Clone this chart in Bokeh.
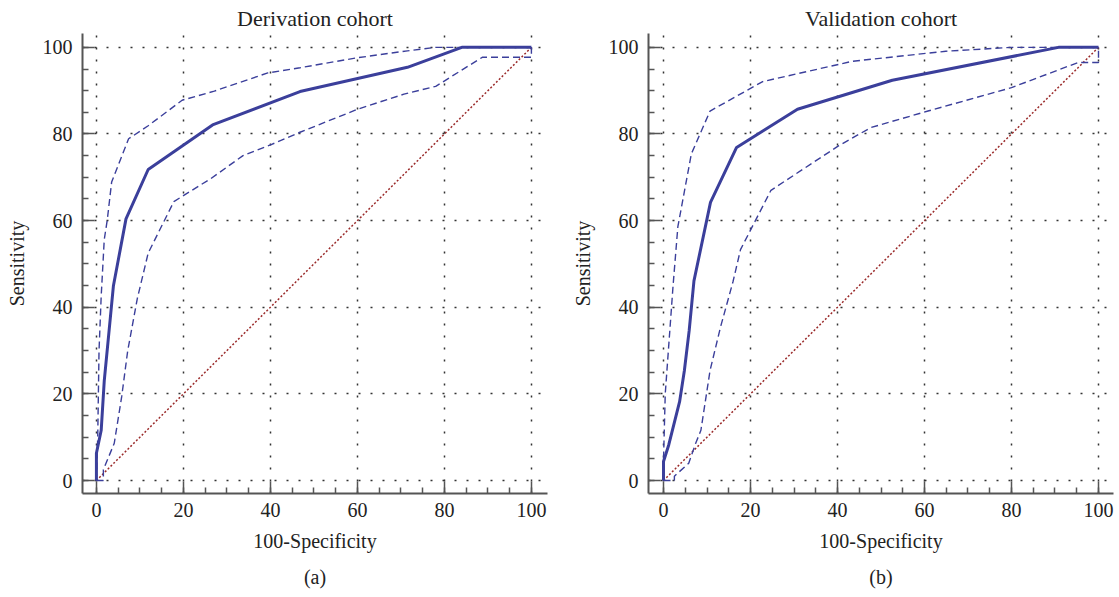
from bokeh.plotting import figure
from bokeh.models import Range1d, FixedTicker, Title
from bokeh.layouts import row
from bokeh.embed import file_html
from bokeh.resources import INLINE

# ---------------- data ----------------
major_ticks = [0, 20, 40, 60, 80, 100]
minor_ticks = list(range(0, 101, 5))
diag = [0, 100]

# Derivation cohort
der_roc_x = [0, 0, 1.1, 1.8, 3.9, 6.8, 11.9, 26.7, 46.8, 71.5, 84, 100]
der_roc_y = [0, 6.3, 11.6, 23, 44.9, 60.4, 71.8, 82.1, 89.8, 95.4, 100, 100]
der_up_x = [0, 0.3, 0.6, 1.1, 1.8, 2.5, 3.5, 7.4, 11.9, 19.7, 27.1, 39.4, 46.8, 60, 71.5, 78, 100]
der_up_y = [0, 10, 30, 42.6, 55.6, 60.2, 68.9, 78.9, 81.9, 87.8, 89.9, 94.1, 95.3, 97.6, 99.2, 100, 100]
der_lo_x = [0, 1.6, 1.6, 4.1, 5.8, 7.2, 9.4, 11.9, 17.8, 26.3, 33.7, 40.3, 46.8, 60, 70.7, 78, 88.7, 100, 100]
der_lo_y = [0, 0, 2.5, 8.6, 19.3, 30, 42, 52.5, 64.4, 69.7, 75, 77.6, 80.4, 85.7, 89.2, 91, 97.7, 97.7, 100]

# Validation cohort
val_roc_x = [0, 0, 1.2, 3.7, 4.8, 5.9, 7.0, 10.8, 16.8, 30.8, 52.6, 90.8, 100]
val_roc_y = [0, 4.4, 8.2, 18.2, 25.4, 34.6, 46.1, 64.2, 76.9, 85.7, 92.4, 100, 100]
val_up_x = [0, 0, 0.4, 2.2, 3.3, 6.4, 10.7, 22.8, 43.5, 64.9, 80, 100]
val_up_y = [0, 4.8, 20, 45, 58.6, 75.4, 85.3, 92.1, 96.8, 99.1, 100, 100]
val_lo_x = [0, 2.5, 2.5, 5.8, 7.4, 8.6, 10.7, 13.1, 16, 17.7, 24.7, 40.3, 47.7, 60.8, 80, 95.3, 100, 100]
val_lo_y = [0, 0, 1, 4, 8.6, 11.6, 25.4, 35.4, 46, 53.3, 67, 77.3, 81.5, 85.3, 90.7, 96.5, 96.5, 100]

FONT = "Liberation Serif"
BLUE = "#3b3f9b"
RED = "#9b2b2b"
AX = "#555555"
TXT = "#222222"


def panel(title, caption, xr, width, bl, br, rx, ry, ux, uy, lx, ly):
    p = figure(width=width, height=597, x_range=Range1d(*xr), y_range=Range1d(-3.0, 103.2),
               output_backend="svg", toolbar_location=None,
               min_border_left=bl, min_border_right=br, min_border_top=33, min_border_bottom=103)
    p.outline_line_color = None
    p.background_fill_color = "white"
    p.border_fill_color = "white"
    p.title.text = title
    p.title.align = "center"
    p.title.text_font = FONT
    p.title.text_font_size = "22px"
    p.title.text_font_style = "normal"
    p.title.text_color = TXT
    p.title.standoff = 5

    for ax in (p.xaxis[0], p.yaxis[0]):
        ax.ticker = FixedTicker(ticks=major_ticks, minor_ticks=minor_ticks)
        ax.axis_line_color = AX
        ax.axis_line_width = 2
        ax.major_tick_line_color = AX
        ax.major_tick_line_width = 1.5
        ax.minor_tick_line_color = AX
        ax.minor_tick_line_width = 1.5
        ax.major_tick_out = 0
        ax.minor_tick_out = 0
        ax.major_tick_in = 12
        ax.minor_tick_in = 6
        ax.major_label_text_font = FONT
        ax.major_label_text_font_size = "20px"
        ax.major_label_text_color = TXT
        ax.major_label_standoff = 10
        ax.axis_label_text_font = FONT
        ax.axis_label_text_font_size = "20px"
        ax.axis_label_text_font_style = "normal"
        ax.axis_label_text_color = TXT
        ax.axis_label_standoff = 12
    p.xaxis.major_label_standoff = 9
    p.xaxis.axis_label_standoff = 10
    p.xaxis.axis_label = "100-Specificity"
    p.yaxis.axis_label = "Sensitivity"

    for g in (p.xgrid[0], p.ygrid[0]):
        g.ticker = FixedTicker(ticks=major_ticks)
        g.grid_line_color = "#333333"
        g.grid_line_width = 1.5
        g.grid_line_dash = "2 10"

    p.line(diag, diag, line_color=RED, line_width=1.5, line_dash="2 2")
    p.line(ux, uy, line_color=BLUE, line_width=1.4, line_dash="7 4")
    p.line(lx, ly, line_color=BLUE, line_width=1.4, line_dash="7 4")
    p.line(rx, ry, line_color=BLUE, line_width=3)

    cap = Title(text=caption, align="center", text_font=FONT, text_font_size="20px",
                text_font_style="normal", text_color=TXT, standoff=19)
    p.add_layout(cap, "below")
    return p


left = panel("Derivation cohort", "(a)", (-3.2, 103.7), 559, 82, 12,
             der_roc_x, der_roc_y, der_up_x, der_up_y, der_lo_x, der_lo_y)
right = panel("Validation cohort", "(b)", (-3.45, 103.45), 560, 89, 6,
              val_roc_x, val_roc_y, val_up_x, val_up_y, val_lo_x, val_lo_y)

layout = row(left, right)
open("out.html", "w").write(file_html(layout, INLINE))
